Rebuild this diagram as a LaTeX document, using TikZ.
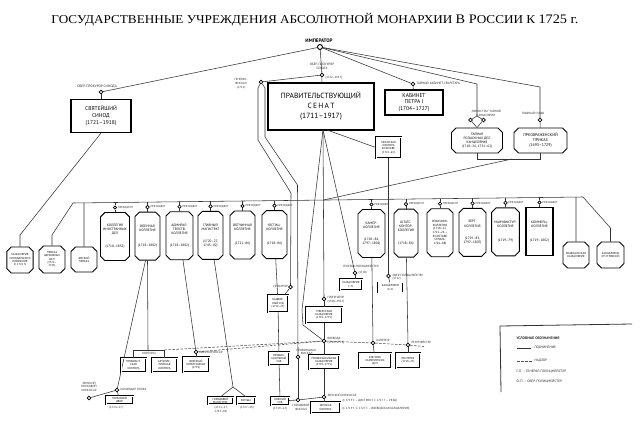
\documentclass[tikz,border=0pt]{standalone}
\usepackage{fontspec}
\setmainfont{Liberation Serif}
\newfontfamily\bx{PT Sans}
\usetikzlibrary{shapes.misc,calc}
\newcommand\fsz[2]{\fontsize{#1}{#2}\selectfont}
\begin{document}
\begin{tikzpicture}[x=1pt,y=-1pt,
 ln/.style={line width=0.55pt, draw=black!80},
 dn/.style={line width=0.55pt, draw=black!70, dash pattern=on 2.5pt off 1.5pt},
 dot/.style={circle, draw, line width=0.7pt, fill=white, inner sep=0pt, minimum size=3.6pt},
 lab/.style={font=\bx\fsz{3}{3.6}, inner sep=0.3pt, align=center, text=black!85},
 coll/.style={chamfered rectangle, chamfered rectangle xsep=2.2pt, chamfered rectangle ysep=2.2pt, draw, line width=0.9pt, minimum width=26pt, minimum height=48pt, inner sep=0.5pt, align=center, font=\bx\fsz{3.4}{4.1}},
 lbox/.style={coll, minimum width=26pt, minimum height=26pt, font=\bx\fsz{2.8}{3.3}},
 sbox/.style={draw, double, double distance=0.5pt, line width=0.35pt, inner sep=0.3pt, align=center, font=\bx\fsz{2.8}{3.3}},
 bigbox/.style={draw, line width=1.1pt, inner sep=1pt, align=center}
]
\useasboundingbox (0,0) rectangle (640,431);
\fill[white] (0,0) rectangle (640,431);

% title
\node[font=\fsz{12}{14}, xscale=1.1] (title) at (315,19.5) {ГОСУДАРСТВЕННЫЕ УЧРЕЖДЕНИЯ АБСОЛЮТНОЙ МОНАРХИИ {\fsz{13}{14}В Р}ОССИИ К {\fsz{13}{14}1725 г.}};

% emperor
\node[dot, minimum size=5pt, line width=0.9pt] (emp) at (320,47) {};
\node[font=\bx\bfseries\fsz{5}{6}] (empl) at (319,40.5) {ИМПЕРАТОР};

% synod
\node[dot] (sp) at (101,92) {};
\node[lab, font=\bx\fsz{3.4}{4}] (spl) at (97,86.5) {ОБЕР-ПРОКУРОР СИНОДА};
\node[bigbox, minimum width=60pt, minimum height=33pt, font=\bx\fsz{5.5}{7}] (syn) at (101,116) {СВЯТЕЙШИЙ\\СИНОД\\(1721–1918)};
\draw[ln] (emp) -- (sp);
\draw[ln] (sp) -- (syn);

% senate
\node[bigbox, line width=1.3pt, minimum width=106pt, minimum height=47pt, font=\bx\fsz{7.5}{10}] (sen) at (321,106.5) {ПРАВИТЕЛЬСТВУЮЩИЙ\\С\,Е\,Н\,А\,Т\\(1711–1917)};
\node[dot] (spr) at (322,75) {};
\node[lab, font=\bx\fsz{3.2}{3.8}] (sprl) at (322,66) {ОБЕР-ПРОКУРОР\\СЕНАТА};
\node[lab, anchor=west] (sprd) at (325,77.5) {(1722–1917)};
\draw[ln] (emp) -- (spr) -- (sen);
\node[dot] (gf) at (261,82) {};
\node[lab, font=\bx\fsz{3}{3.8}] (gfl) at (241,84) {ГЕНЕРАЛ-\\ФИСКАЛ\\(1711)};
\draw[ln] (gf) -- (spr);

% cabinet
\node[dot] (cabc) at (413,84) {};
\node[lab, anchor=west, font=\bx\fsz{3.2}{3.8}] (cabl) at (416,83) {ТАЙНЫЙ КАБИНЕТ-СЕКРЕТАРЬ};
\node[bigbox, minimum width=58pt, minimum height=25pt, font=\bx\fsz{5.5}{6.5}] (cab) at (414,102.5) {КАБИНЕТ\\ПЕТРА I\\(1704–1727)};
\draw[ln] (emp) -- (cabc) -- (cab);

% secret chancellery and Preobrazhensky
\coordinate (ttop) at (477,84);
\coordinate (tsp) at (477,116);
\node[dot] (tk1) at (470.5,120) {};
\node[dot] (tk2) at (483.5,120) {};
\node[lab] (tkl) at (486,113.5) {„МИНИСТРЫ“ ТАЙНОЙ\\КАНЦЕЛЯРИИ};
\node[coll, minimum width=51pt, minimum height=25pt, font=\bx\fsz{3.4}{4}] (tk) at (477,140.5) {ТАЙНАЯ\\РОЗЫСКНЫХ ДЕЛ\\КАНЦЕЛЯРИЯ\\(1718–26, 1731–62)};
\draw[ln] (emp) -- (ttop) -- (tsp);
\draw[ln] (tsp) -- (tk1) -- (tk.north);
\draw[ln] (tsp) -- (tk2) -- (tk.north);
\coordinate (ptop) at (540,87);
\node[dot] (gs) at (540,120) {};
\node[lab] (gsl) at (533,113.5) {ГЛАВНЫЙ СУДЬЯ};
\node[coll, minimum width=53pt, minimum height=25pt, font=\bx\fsz{4}{5}] (pp) at (540.5,140.5) {ПРЕОБРАЖЕНСКИЙ\\ПРИКАЗ\\(1695–1729)};
\draw[ln] (emp) -- (ptop) -- (gs) -- (pp);
\coordinate (br1) at (477,159);
\coordinate (br2) at (540.5,159);
\coordinate (brm) at (512,159);
\draw[ln] (tk.south) -- (br1) -- (br2) -- (pp.south);

% bar of colleges
\coordinate (barL) at (73,203);
\coordinate (barR) at (583,197);
\coordinate (barJ) at (323,200.1);
\draw[ln] (barL) -- (barR);
\draw[ln] (brm) -- (barJ);

% colleges
\node[coll] (c1) at (115,236.5) {КОЛЛЕГИЯ\\ИНОСТРАННЫХ\\ДЕЛ\\[9pt](1718–1832)};
\node[coll, minimum width=25pt] (c2) at (147.5,236.1) {ВОЕННАЯ\\КОЛЛЕГИЯ\\[10pt](1718–1802)};
\node[coll, minimum width=27pt] (c3) at (179.5,235.7) {АДМИРАЛ-\\ТЕЙСТВ-\\КОЛЛЕГИЯ\\[8pt](1718–1802)};
\node[coll, minimum width=25pt] (c4) at (210.5,235.4) {ГЛАВНЫЙ\\МАГИСТРАТ\\[8pt](1720–27,\\1743–82)};
\node[coll, minimum width=25pt] (c5) at (242.5,235) {ВОТЧИННАЯ\\КОЛЛЕГИЯ\\[10pt](1721–86)};
\node[coll, minimum width=25pt] (c6) at (274.5,234.6) {ЮСТИЦ-\\КОЛЛЕГИЯ\\[10pt](1718–86)};
\node[coll, minimum width=27pt] (c7) at (371.5,233.5) {КАМЕР-\\КОЛЛЕГИЯ\\[8pt](1718–84,\\1797–1801)};
\node[coll, minimum width=24pt] (c8) at (406,233.1) {ШТАТС-\\КОНТОР-\\КОЛЛЕГИЯ\\[8pt](1718–84)};
\node[coll, font=\bx\fsz{3}{3.7}] (c9) at (440,232.7) {РЕВИЗИОН-\\КОЛЛЕГИЯ\\(1718–22,\\1722–26 –\\В СОСТАВЕ\\СЕНАТА,\\1726–88)};
\node[coll, minimum width=27pt] (c10) at (472.5,232.3) {БЕРГ-\\КОЛЛЕГИЯ\\[8pt](1719–83,\\1797–1807)};
\node[coll, minimum width=27pt] (c11) at (505.5,231.9) {МАНУФАКТУР-\\КОЛЛЕГИЯ\\[10pt](1719–79)};
\node[draw, line width=1.1pt, minimum width=27pt, minimum height=48pt, inner sep=0.5pt, align=center, font=\bx\fsz{3.4}{4.1}] (c12) at (539.5,231.5) {КОММЕРЦ-\\КОЛЛЕГИЯ\\[10pt](1719–1802)};

\foreach \i/\x/\b in {1/115/202.5,2/147.5/202.1,3/179.5/201.7,4/210.5/201.4,5/242.5/201,6/274.5/200.6,7/371.5/199.5,8/406/199.1,9/440/198.7,10/472.5/198.3,11/505.5/197.9,12/539.5/197.5}{
  \coordinate (bb\i) at (\x,\b);
  \node[dot, minimum size=3.4pt] (pc\i) at (\x,\b+5) {};
  \node[lab, anchor=west, font=\bx\fsz{2.8}{3}] (pl\i) at ($(pc\i.east)+(0.5,0)$) {ПРЕЗИДЕНТ};
  \draw[ln] (bb\i) -- (pc\i) -- (c\i);
}

% left offices
\node[lbox] (l1) at (20,260) {КАНЦЕЛЯРИЯ\\СИНОДАЛЬНОГО\\ПРАВЛЕНИЯ\\(С 1721 Г.)};
\node[lbox, minimum height=27pt] (l2) at (52,259.5) {ПРИКАЗ\\ЦЕРКОВНЫХ\\ДЕЛ\\(1721–\\1725)};
\node[lbox, minimum height=25pt] (l3) at (84,259.5) {ЯМСКОЙ\\ПРИКАЗ};
\coordinate (s1) at (20,235);
\coordinate (s2) at (52,235);
\coordinate (s3) at (84,202.9);
\draw[ln] (syn.south) -- (s1) -- (l1);
\draw[ln] (barL) -- (s2) -- (l2);
\draw[ln] (s3) -- (l3);
% right offices
\node[lbox] (m1) at (576,255) {МЕДИЦИНСКАЯ\\КАНЦЕЛЯРИЯ};
\node[lbox, minimum width=27pt] (m2) at (610.5,255) {КАНЦЕЛЯРИЯ\\ОТ СТРОЕНИЙ};
\coordinate (s4) at (576,197.1);
\coordinate (s5) at (610.5,228);
\draw[ln] (s4) -- (m1);
\draw[ln] (barR) -- (s5) -- (m2);

% senate lines
\coordinate (senB) at (323,130);
\coordinate (senB2) at (327,130);
\node[sbox, minimum width=25pt, minimum height=21pt] (sk) at (388.5,147.5) {СЕНАТСКАЯ\\КОНТОРА\\В МОСКВЕ\\(1722–63)};
\draw[ln] (senB2) -- (sk.west);

% police
\node[dot] (gp) at (355,273) {};
\draw[ln] (senB) -- (gp);
\node[lab] (gpl) at (361,266.5) {ГЕНЕРАЛ-ПОЛИЦМЕЙСТЕР};
\node[lab, anchor=west] (gpd) at (358,273) {(1718)};
\node[sbox, minimum width=22pt, minimum height=11pt] (gpk) at (351,284.5) {КАНЦЕЛЯРИЯ\\Г.-П.};
\draw[ln] (gp) -- (gp |- gpk.north);
\node[dot] (op) at (388.5,276) {};
\draw[ln] (sk) -- (op);
\node[lab, anchor=west, align=left] (opl) at (392,277) {ОБЕР-ПОЛИЦМЕЙСТЕР\\(1722)};
\node[sbox, minimum width=25pt, minimum height=10pt] (opk) at (390.5,287.5) {КАНЦЕЛЯРИЯ\\О.-П.};
\draw[ln] (op) -- (opk);

% governor chain
\node[dot] (gu) at (324,299) {};
\draw[ln] (senB) -- (gu);
\node[lab, anchor=west, align=left] (gul) at (327,299.5) {ГУБЕРНАТОР\\(1708–1917)};
\node[sbox, minimum width=36pt, minimum height=16pt] (gk) at (324,315) {ГУБЕРНСКАЯ\\КАНЦЕЛЯРИЯ\\(1719–1775)};
\draw[ln] (gu) -- (gk);
\node[dot] (vo) at (324,341) {};
\draw[ln] (gk) -- (vo);
\coordinate (v1) at (302,310);
\coordinate (v2) at (303,325);
\draw[ln] (senB) -- (v1) -- (v2) -- (vo);
\node[lab, anchor=west, align=left] (vol) at (327,340.5) {ВОЕВОДА\\(1719–1775)};
\node[sbox, minimum width=30pt, minimum height=14pt] (pkz) at (324,362) {ПРОВИНЦИАЛЬНАЯ\\КАНЦЕЛЯРИЯ\\(1719–1775)};
\node[dot] (zk) at (324,397) {};
\draw[ln] (vo) -- (pkz) -- (zk);
\node[lab, anchor=west] (zkl) at (327,395) {ЗЕМСКИЙ КОМИССАР};
\node[sbox, minimum width=29pt, minimum height=11pt] (zkk) at (325.5,407.5) {ЗЕМСКАЯ\\КОНТОРА};
\draw[ln] (zk) -- (zkk);
\node[lab, anchor=west] (zkd1) at (342,400.5) {(С 1719 Г. – ДИСТРИКТ, С 1727 Г. – УЕЗД)};
\node[lab, anchor=west] (zkd2) at (342,408.5) {(С 1719 Г.; С 1727 Г. – ВОЕВОДСКАЯ КАНЦЕЛЯРИЯ)};

% courts
\node[sbox, minimum width=20pt, minimum height=17pt] (nd) at (278,303.5) {НАДВОР-\\НЫЙ СУД\\(1719–27)};
\draw[ln] (c6) -- (nd);
\node[dot] (pr) at (290.5,287) {};
\node[lab, anchor=east] (prl) at (288.5,286.5) {ПРОКУРОР};
\draw[ln] (pr) -- (nd);
\node[sbox, minimum width=20pt, minimum height=13pt] (ps) at (279,358.5) {ПРОВИН-\\ЦИАЛЬНЫЙ\\СУД};
\draw[ln] (nd) -- (ps);
\node[sbox, minimum width=18pt, minimum height=8pt] (ns) at (280,401) {НИЖНИЙ\\СУД};
\node[lab] (nsl) at (280,408.5) {(1719–22)};
\draw[ln] (ps) -- (ns);

% fiscal / prosecutor lines
\coordinate (a0) at (258,88);
\coordinate (a1) at (258,140);
\coordinate (a2) at (291,193);
\draw[ln] (gf) -- (a0) -- (a1) -- (a2) -- (pr);
\coordinate (b0) at (265,88);
\coordinate (b1) at (265,137);
\coordinate (b2) at (297.5,185);
\node[dot] (pf) at (298,357) {};
\node[lab, anchor=south west] (pfl) at (296,355.5) {ПРОВИНЦИАЛ-\\ФИСКАЛ};
\draw[ln] (gf) -- (b0) -- (b1) -- (b2) -- (pf);
\node[dot] (cf) at (298,400) {};
\node[lab] (cfl) at (301,407.5) {ГОРОДОВОЙ\\ФИСКАЛ};
\draw[ln] (pf) -- (cf);
\draw[ln] (ns) -- (cf) -- (zk);

% military
\node[dot] (kp) at (117,390) {};
\draw[ln] ($(c2.south)+(-2,0)$) -- (kp);
\node[lab, anchor=west] (kpl) at (120,389.5) {КОМАНДИР ПОЛКА};
\node[sbox, minimum width=27pt, minimum height=8pt] (pk) at (119.5,400) {ПОЛКОВОЙ\\ДВОР};
\node[lab] (pkl) at (116,407.5) {(1724–27)};
\draw[ln] (kp) -- (pk);
\node[dot] (dk) at (89,398) {};
\draw[ln] (kp) -- (dk);
\node[lab] (dkl) at (89,386.5) {ЗЕМСКИЙ\\ПОЛКОВОЙ\\КОМИССАР};
\coordinate (brt) at (148,350);
\coordinate (brl) at (133.5,350);
\coordinate (brr) at (164.5,350);
\node[sbox, minimum width=25pt, minimum height=14pt] (bx1) at (133.5,365) {ПРОВИАНТ-\\СКАЯ\\КОНТОРА};
\node[sbox, minimum width=25pt, minimum height=14pt] (bx2) at (164.5,365) {АРТИЛЛЕ-\\РИЙСКАЯ\\КОНТОРА};
\draw[ln] (c2.south) -- (brt);
\draw[ln] (bx1) -- (brl) -- (brr) -- (bx2);
\node[lab] (brlab) at (149,353.5) {КОНТОРЫ};
\node[dot] (oc) at (196,352) {};
\draw[ln] (c3) -- (oc);
\node[lab, anchor=west] (ocl) at (199,352) {ОБЕР-КОМИССАР};
\node[sbox, minimum width=26pt, minimum height=15pt] (bx3) at (196,364.5) {ВОЕННЫЙ\\КОМИССАРИАТ\\(1719)};
\draw[ln] (oc) -- (bx3);

% magistrates
\coordinate (mf) at (233,387);
\draw[ln] (c4) -- (mf);
\node[sbox, minimum width=25pt, minimum height=7pt] (gm) at (220.5,400.5) {ГОРОДОВОЙ\\МАГИСТРАТ};
\node[sbox, minimum width=18pt, minimum height=7pt] (rt) at (246,400.5) {РАТУША};
\draw[ln] (mf) -- (gm.north);
\draw[ln] (mf) -- (rt.north);
\node[lab] (gml) at (221,409.5) {(1721–27,\\1743–82)};
\node[lab] (rtl) at (247,408) {(1727–43)};

% finances
\node[dot] (km) at (373,343) {};
\draw[ln] (c7) -- (km);
\node[lab, anchor=west] (kml) at (376,340) {КАМЕРИР};
\node[sbox, minimum width=32pt, minimum height=15pt] (kmk) at (375,360.5) {КОНТОРА\\КАМЕРИРСКИХ\\ДЕЛ};
\draw[ln] (km) -- (kmk);
\node[dot] (rm) at (408,345) {};
\draw[ln] (c8) -- (rm);
\node[lab, anchor=west] (rml) at (411,342) {РЕНТМЕЙСТЕР};
\node[sbox, minimum width=24pt, minimum height=15pt] (rmk) at (408,360.5) {РЕНТЕРЕЯ\\(1719–27)};
\draw[ln] (rm) -- (rmk);

% supervision (dashed)
\coordinate (dE) at (424,346.5);
\draw[dn] (brr) -- (vo);
\draw[dn] (oc) -- (vo);
\draw[dn] (vo) -- (km) -- (rm) -- (dE);

% legend
\coordinate (lg1) at (500,326);
\coordinate (lg2) at (632,324);
\coordinate (lg3) at (501,392);
\draw[line width=0.8pt, black!80] (lg2) -- (lg1) -- (lg3);
\node[lab, anchor=west, font=\bx\bfseries\fsz{3.6}{4}] (lgt) at (516,338) {УСЛОВНЫЕ ОБОЗНАЧЕНИЯ};
\coordinate (ls1) at (517,348);
\coordinate (ls2) at (531,348);
\draw[ln] (ls1) -- (ls2);
\node[lab, anchor=west, font=\bx\fsz{3.4}{4}] (lgs) at (534,348) {ПОДЧИНЕНИЕ};
\coordinate (ld1) at (517,361);
\coordinate (ld2) at (532,361);
\draw[dn] (ld1) -- (ld2);
\node[lab, anchor=west, font=\bx\fsz{3.4}{4}] (lgd) at (534,361) {НАДЗОР};
\node[lab, anchor=west, font=\bx\fsz{3.4}{4}] (lgg) at (516,371) {Г.-П. – ГЕНЕРАЛ-ПОЛИЦМЕЙСТЕР};
\node[lab, anchor=west, font=\bx\fsz{3.4}{4}] (lgo) at (516,381) {О.-П. – ОБЕР-ПОЛИЦМЕЙСТЕР};
\end{tikzpicture}
\end{document}
